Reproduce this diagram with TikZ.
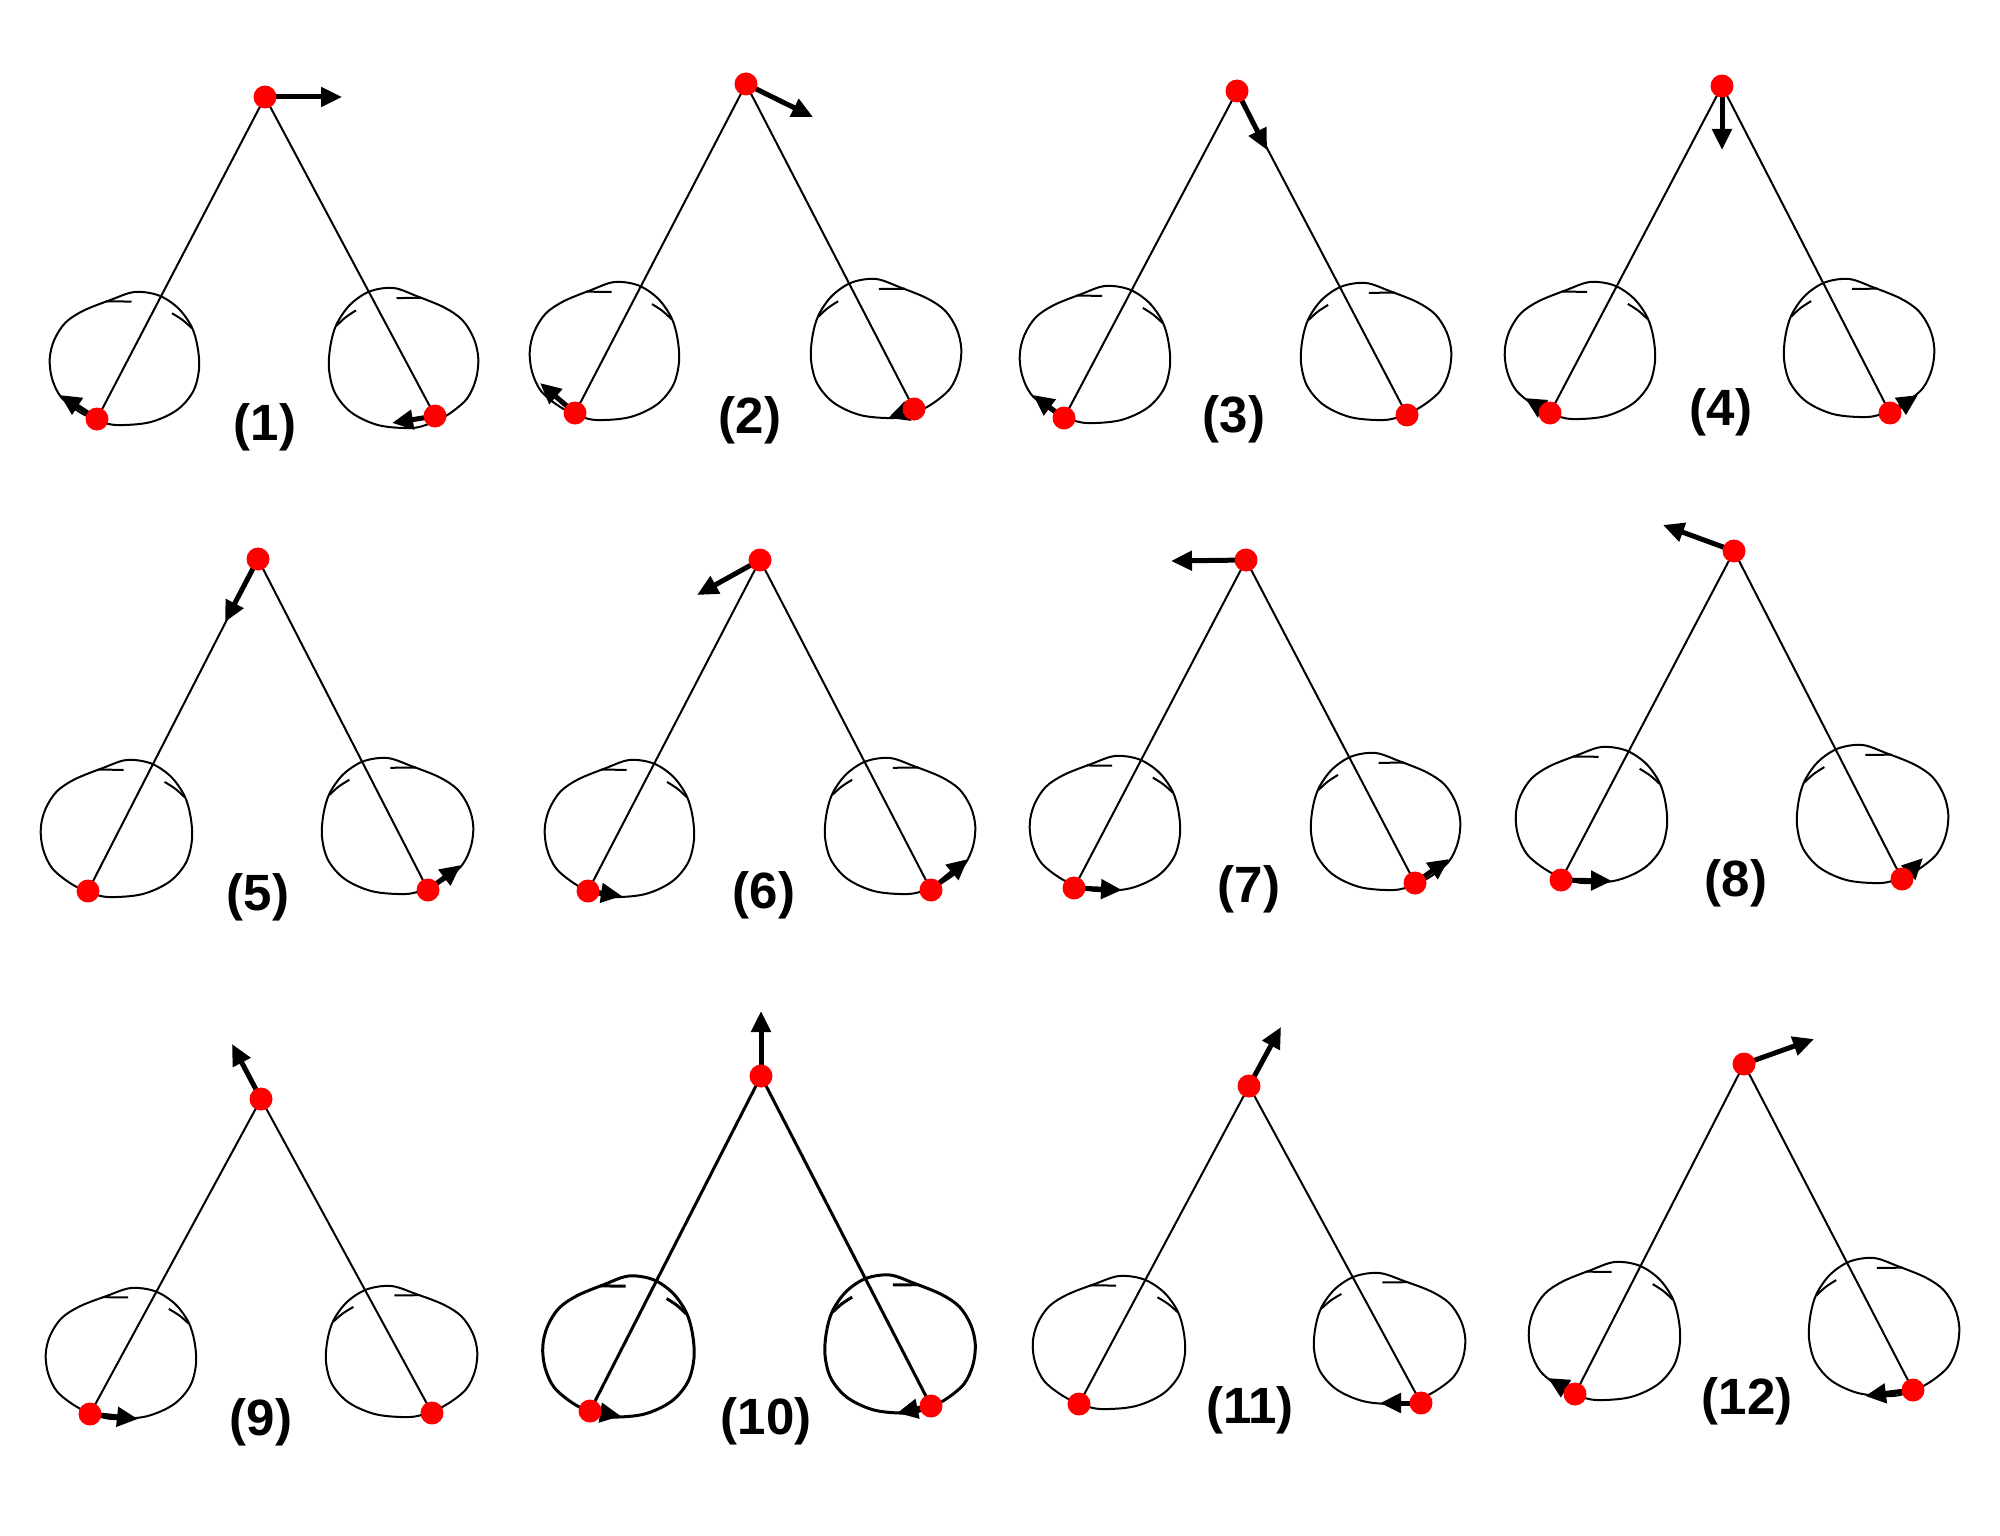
\documentclass[tikz,border=0pt]{standalone}
\usepackage{fontspec}
\setmainfont{Liberation Sans}
\usetikzlibrary{arrows.meta}
\pgfdeclarelayer{bg}
\pgfsetlayers{bg,main}
\newcommand\orbitpath{%
  \draw[orbit] plot[smooth cycle, tension=0.55] coordinates {(0.32,0.965) (0.45,1.0) (0.67,0.98) (0.85,0.89) (0.96,0.75) (1.0,0.58) (0.99,0.41) (0.95,0.26) (0.86,0.12) (0.73,0.025) (0.57,0.0) (0.41,0.06) (0.23,0.14) (0.11,0.23) (0.035,0.36) (0.005,0.5) (0.02,0.65) (0.08,0.79) (0.2,0.9)};
  \draw[orbit] (0.38,0.07) -- (0.55,0.072);
  \draw[orbit] plot[smooth, tension=0.6] coordinates {(0.82,0.16) (0.89,0.21) (0.95,0.27)};}
\newcommand\orbitL[4]{%
  \pgfmathsetmacro\orbW{#3-#1}\pgfmathsetmacro\orbH{#4-#2}%
  \begin{scope}[shift={(#1,#2)},x=\orbW pt,y=-\orbH pt]\orbitpath\end{scope}}
\newcommand\orbitR[4]{%
  \pgfmathsetmacro\orbW{#3-#1}\pgfmathsetmacro\orbH{#4-#2}%
  \begin{scope}[shift={(#3,#2)},x=-\orbW pt,y=-\orbH pt]\orbitpath\end{scope}}
\begin{document}
\begin{tikzpicture}[x=1pt,y=-1pt,
  mass/.style={circle,fill=red,draw=none,inner sep=0pt,minimum size=23pt},
  rod/.style={line width=2pt},
  orbit/.style={line width=2pt,line join=round},
  vel/.style={line width=5pt,-{Triangle[length=21pt,width=19pt]}},
  lab/.style={inner sep=0pt,font=\bfseries\fontsize{51}{51}\selectfont}]
\useasboundingbox (0,0) rectangle (2000,1536);
\begin{pgfonlayer}{bg}
\fill[white] (0,0) rectangle (2000,1536);
\end{pgfonlayer}
% ---------- panel 1
\node[mass] (t1) at (265,97) {};
\node[mass] (l1) at (97,419) {};
\node[mass] (r1) at (435,416) {};
\coordinate (vt1) at (342,97);
\coordinate (vl1) at (60,395);
\coordinate (vr1) at (392,423);
\node[lab] (n1) at (265,427) {(1)};
\begin{pgfonlayer}{bg}
\orbitL{49}{292}{199}{425}\orbitR{329}{288}{479}{428}
\draw[rod] (t1.center) -- (l1.center) (t1.center) -- (r1.center);
\draw[vel] (t1.center) -- (vt1);
\draw[vel] (l1.center) -- (vl1);
\draw[vel] (r1.center) -- (vr1);
\end{pgfonlayer}
% ---------- panel 2
\node[mass] (t2) at (746,84) {};
\node[mass] (l2) at (575,413) {};
\node[mass] (r2) at (914,409) {};
\coordinate (vt2) at (813,117);
\coordinate (vl2) at (540,383);
\coordinate (vr2) at (888,418);
\node[lab] (n2) at (750,420) {(2)};
\begin{pgfonlayer}{bg}
\orbitL{529}{282}{679}{420}\orbitR{811}{279}{962}{418}
\draw[rod] (t2.center) -- (l2.center) (t2.center) -- (r2.center);
\draw[vel] (t2.center) -- (vt2);
\draw[vel] (l2.center) -- (vl2);
\draw[vel] (r2.center) -- (vr2);
\end{pgfonlayer}
% ---------- panel 3
\node[mass] (t3) at (1237,91) {};
\node[mass] (l3) at (1064,418) {};
\node[mass] (r3) at (1407,415) {};
\coordinate (vt3) at (1267,150);
\coordinate (vl3) at (1033,395);
\node[lab] (n3) at (1234,419) {(3)};
\begin{pgfonlayer}{bg}
\orbitL{1019}{286}{1170}{423}\orbitR{1301}{283}{1452}{420}
\draw[rod] (t3.center) -- (l3.center) (t3.center) -- (r3.center);
\draw[vel] (t3.center) -- (vt3);
\draw[vel] (l3.center) -- (vl3);
\end{pgfonlayer}
% ---------- panel 4
\node[mass] (t4) at (1722,86) {};
\node[mass] (l4) at (1550,413) {};
\node[mass] (r4) at (1890,413) {};
\coordinate (vt4) at (1722,150);
\coordinate (vl4) at (1525,398);
\coordinate (vr4) at (1918,395);
\node[lab] (n4) at (1721,412) {(4)};
\begin{pgfonlayer}{bg}
\orbitL{1504}{282}{1655}{419}\orbitR{1784}{279}{1935}{417}
\draw[rod] (t4.center) -- (l4.center) (t4.center) -- (r4.center);
\draw[vel] (t4.center) -- (vt4);
\draw[vel] (l4.center) -- (vl4);
\draw[vel] (r4.center) -- (vr4);
\end{pgfonlayer}
% ---------- panel 5
\node[mass] (t5) at (258,559) {};
\node[mass] (l5) at (88,891) {};
\node[mass] (r5) at (428,890) {};
\coordinate (vt5) at (225,622);
\coordinate (vr5) at (461,865);
\node[lab] (n5) at (258,897) {(5)};
\begin{pgfonlayer}{bg}
\orbitL{40}{760}{192}{897}\orbitR{322}{758}{474}{894}
\draw[rod] (t5.center) -- (l5.center) (t5.center) -- (r5.center);
\draw[vel] (t5.center) -- (vt5);
\draw[vel] (r5.center) -- (vr5);
\end{pgfonlayer}
% ---------- panel 6
\node[mass] (t6) at (760,560) {};
\node[mass] (l6) at (588,891) {};
\node[mass] (r6) at (931,890) {};
\coordinate (vt6) at (697,595);
\coordinate (vl6) at (622,896);
\coordinate (vr6) at (968,859);
\node[lab] (n6) at (764,895) {(6)};
\begin{pgfonlayer}{bg}
\orbitL{544}{760}{694}{897}\orbitR{825}{758}{976}{894}
\draw[rod] (t6.center) -- (l6.center) (t6.center) -- (r6.center);
\draw[vel] (t6.center) -- (vt6);
\draw[vel] (l6.center) -- (vl6);
\draw[vel] (r6.center) -- (vr6);
\end{pgfonlayer}
% ---------- panel 7
\node[mass] (t7) at (1246,560) {};
\node[mass] (l7) at (1074,888) {};
\node[mass] (r7) at (1415,883) {};
\coordinate (vt7) at (1171,561);
\coordinate (vl7) at (1122,890);
\coordinate (vr7) at (1449,859);
\node[lab] (n7) at (1249,889) {(7)};
\begin{pgfonlayer}{bg}
\orbitL{1029}{756}{1180}{891}\orbitR{1311}{753}{1461}{890}
\draw[rod] (t7.center) -- (l7.center) (t7.center) -- (r7.center);
\draw[vel] (t7.center) -- (vt7);
\draw[vel] (l7.center) -- (vl7);
\draw[vel] (r7.center) -- (vr7);
\end{pgfonlayer}
% ---------- panel 8
\node[mass] (t8) at (1734,551) {};
\node[mass] (l8) at (1561,880) {};
\node[mass] (r8) at (1902,879) {};
\coordinate (vt8) at (1663,525);
\coordinate (vl8) at (1612,881);
\coordinate (vr8) at (1923,858);
\node[lab] (n8) at (1736,883) {(8)};
\begin{pgfonlayer}{bg}
\orbitL{1515}{747}{1667}{883}\orbitR{1797}{745}{1949}{883}
\draw[rod] (t8.center) -- (l8.center) (t8.center) -- (r8.center);
\draw[vel] (t8.center) -- (vt8);
\draw[vel] (l8.center) -- (vl8);
\draw[vel] (r8.center) -- (vr8);
\end{pgfonlayer}
% ---------- panel 9
\node[mass] (t9) at (261,1099) {};
\node[mass] (l9) at (90,1414) {};
\node[mass] (r9) at (432,1413) {};
\coordinate (vt9) at (232,1044);
\coordinate (vl9) at (138,1419);
\node[lab] (n9) at (261,1422) {(9)};
\begin{pgfonlayer}{bg}
\orbitL{45}{1288}{196}{1419}\orbitR{326}{1286}{478}{1417}
\draw[rod] (t9.center) -- (l9.center) (t9.center) -- (r9.center);
\draw[vel] (t9.center) -- (vt9);
\draw[vel] (l9.center) -- (vl9);
\end{pgfonlayer}
% ---------- panel 10
\begin{scope}[rod/.append style={line width=3pt},orbit/.append style={line width=3pt}]
\node[mass] (t10) at (761,1076) {};
\node[mass] (l10) at (590,1411) {};
\node[mass] (r10) at (931,1406) {};
\coordinate (vt10) at (761,1011);
\coordinate (vl10) at (621,1416);
\coordinate (vr10) at (897,1413);
\node[lab] (n10) at (766,1421) {(10)};
\begin{pgfonlayer}{bg}
\orbitL{542}{1276}{694}{1417}\orbitR{825}{1275}{976}{1413}
\draw[rod] (t10.center) -- (l10.center) (t10.center) -- (r10.center);
\draw[vel] (t10.center) -- (vt10);
\draw[vel] (l10.center) -- (vl10);
\draw[vel] (r10.center) -- (vr10);
\end{pgfonlayer}
\end{scope}
% ---------- panel 11
\node[mass] (t11) at (1249,1086) {};
\node[mass] (l11) at (1079,1404) {};
\node[mass] (r11) at (1421,1403) {};
\coordinate (vt11) at (1281,1027);
\coordinate (vr11) at (1380,1403);
\node[lab] (n11) at (1250,1410) {(11)};
\begin{pgfonlayer}{bg}
\orbitL{1032}{1276}{1185}{1409}\orbitR{1314}{1273}{1466}{1404}
\draw[rod] (t11.center) -- (l11.center) (t11.center) -- (r11.center);
\draw[vel] (t11.center) -- (vt11);
\draw[vel] (r11.center) -- (vr11);
\end{pgfonlayer}
% ---------- panel 12
\node[mass] (t12) at (1744,1064) {};
\node[mass] (l12) at (1575,1394) {};
\node[mass] (r12) at (1913,1390) {};
\coordinate (vt12) at (1814,1039);
\coordinate (vl12) at (1548,1378);
\coordinate (vr12) at (1865,1396);
\node[lab] (n12) at (1747,1401) {(12)};
\begin{pgfonlayer}{bg}
\orbitL{1528}{1262}{1680}{1400}\orbitR{1809}{1258}{1960}{1396}
\draw[rod] (t12.center) -- (l12.center) (t12.center) -- (r12.center);
\draw[vel] (t12.center) -- (vt12);
\draw[vel] (l12.center) -- (vl12);
\draw[vel] (r12.center) -- (vr12);
\end{pgfonlayer}
\end{tikzpicture}
\end{document}
